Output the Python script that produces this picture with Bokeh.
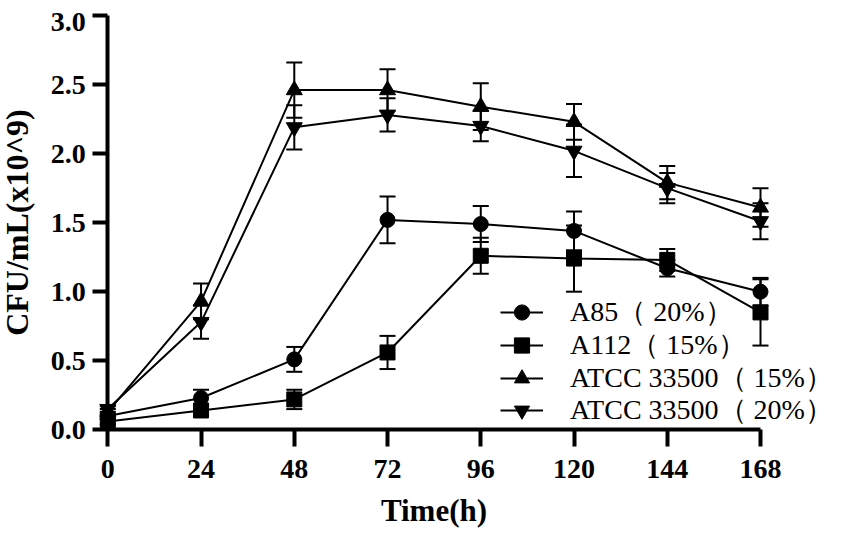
from bokeh.plotting import figure
from bokeh.models import (ColumnDataSource, Whisker, TeeHead, FixedTicker,
                          PrintfTickFormatter, Legend, LegendItem, Range1d, Label)
from bokeh.embed import file_html
from bokeh.resources import INLINE

# ---- data ----
time_h = [0, 24, 48, 72, 96, 120, 144, 168]

a85 = [0.10, 0.23, 0.51, 1.52, 1.49, 1.44, 1.17, 1.00]
a85_err = [0.02, 0.06, 0.09, 0.17, 0.13, 0.14, 0.06, 0.10]

a112 = [0.06, 0.14, 0.22, 0.56, 1.26, 1.24, 1.23, 0.85]
a112_err = [0.02, 0.04, 0.07, 0.12, 0.13, 0.24, 0.08, 0.24]

atcc15 = [0.13, 0.93, 2.46, 2.46, 2.34, 2.23, 1.79, 1.61]
atcc15_err = [0.02, 0.13, 0.20, 0.15, 0.17, 0.13, 0.12, 0.14]

atcc20 = [0.15, 0.78, 2.19, 2.28, 2.20, 2.02, 1.75, 1.51]
atcc20_err = [0.02, 0.12, 0.16, 0.12, 0.11, 0.19, 0.11, 0.13]

labels = ["A85（ 20%）", "A112（ 15%）", "ATCC 33500（ 15%）", "ATCC 33500（ 20%）"]
markers = ["circle", "square", "triangle", "inverted_triangle"]
marker_sizes = [15, 15, 16, 16]

x_ticks = [0, 24, 48, 72, 96, 120, 144, 168]
y_ticks = [0.0, 0.5, 1.0, 1.5, 2.0, 2.5, 3.0]
y_top = 3.0

series = [(a85, a85_err), (a112, a112_err), (atcc15, atcc15_err), (atcc20, atcc20_err)]

W, H = 851, 533
X0_PX, X168_PX = 107.3, 760.0     # canvas px of x=0 and x=168
Y0_PX, Y3_PX = 429.3, 15.0        # canvas px of y=0 and y=3
kx = (X168_PX - X0_PX) / 168.0
ky = (Y0_PX - Y3_PX) / 3.0

p = figure(width=W, height=H, output_backend="svg", toolbar_location=None,
           x_range=Range1d(-X0_PX / kx, (W - X0_PX) / kx),
           y_range=Range1d(-(H - Y0_PX) / ky, 3 + Y3_PX / ky),
           min_border_left=0, min_border_right=0, min_border_top=0,
           min_border_bottom=0)
p.outline_line_color = None
p.grid.visible = False
p.background_fill_color = "white"

legend_rows_px = [312.0, 345.0, 378.0, 410.0]   # canvas y of legend row centres
GH = 38

for (vals, errs), lab, mk, ms, row in zip(series, labels, markers, marker_sizes, legend_rows_px):
    src = ColumnDataSource(dict(
        x=time_h, y=vals,
        upper=[v + e for v, e in zip(vals, errs)],
        lower=[v - e for v, e in zip(vals, errs)]))
    lr = p.line("x", "y", source=src, line_color="black", line_width=2)
    w = Whisker(source=src, base="x", upper="upper", lower="lower",
                line_color="black", line_width=2,
                upper_head=TeeHead(size=16, line_color="black", line_width=2),
                lower_head=TeeHead(size=16, line_color="black", line_width=2))
    p.add_layout(w)
    sr = p.scatter("x", "y", source=src, marker=mk, size=ms,
                   fill_color="black", line_color="black")
    lg = Legend(items=[LegendItem(label=lab, renderers=[lr, sr])],
                location=(500, H - (row + GH / 2)),
                glyph_width=43, glyph_height=GH, spacing=0,
                label_standoff=27, padding=0, margin=0,
                border_line_color=None, background_fill_alpha=0,
                label_text_font="Liberation Serif", label_text_font_size="28px",
                label_text_color="black", label_height=GH)
    p.add_layout(lg)

for ax in (p.xaxis[0], p.yaxis[0]):
    ax.axis_line_width = 4
    ax.axis_line_color = "black"
    ax.major_tick_line_width = 4
    ax.major_tick_line_color = "black"
    ax.major_tick_in = 0
    ax.minor_tick_line_color = None
    ax.major_label_text_font = "Liberation Serif"
    ax.major_label_text_font_style = "bold"
    ax.major_label_text_font_size = "28px"
    ax.major_label_text_color = "black"
    ax.axis_label_text_font = "Liberation Serif"
    ax.axis_label_text_font_style = "bold"
    ax.axis_label_text_color = "black"

xa = p.xaxis[0]
xa.fixed_location = 0
xa.bounds = (0, 168)
xa.ticker = FixedTicker(ticks=x_ticks)
xa.major_tick_out = 17
xa.major_label_standoff = 13
xa.axis_label = "Time(h)"
xa.axis_label_text_font_size = "31px"
xa.axis_label_standoff = 12

ya = p.yaxis[0]
ya.fixed_location = 0
ya.bounds = (0, 3)
ya.ticker = FixedTicker(ticks=y_ticks)
ya.formatter = PrintfTickFormatter(format="%.1f")
ya.major_label_overrides = {y_top: ""}
ya.major_tick_out = 15
ya.major_label_standoff = 7
ya.axis_label = "CFU/mL(x10^9)"
ya.axis_label_text_font_size = "32px"
ya.axis_label_standoff = 13

# top tick label, nudged below its tick as in the reference
p.add_layout(Label(x=0, y=y_top, text="%.1f" % y_top, x_offset=-22, y_offset=-6,
                   text_align="right", text_baseline="middle",
                   text_font="Liberation Serif", text_font_style="bold",
                   text_font_size="28px", text_color="black"))

open("out.html", "w").write(file_html(p, INLINE))
